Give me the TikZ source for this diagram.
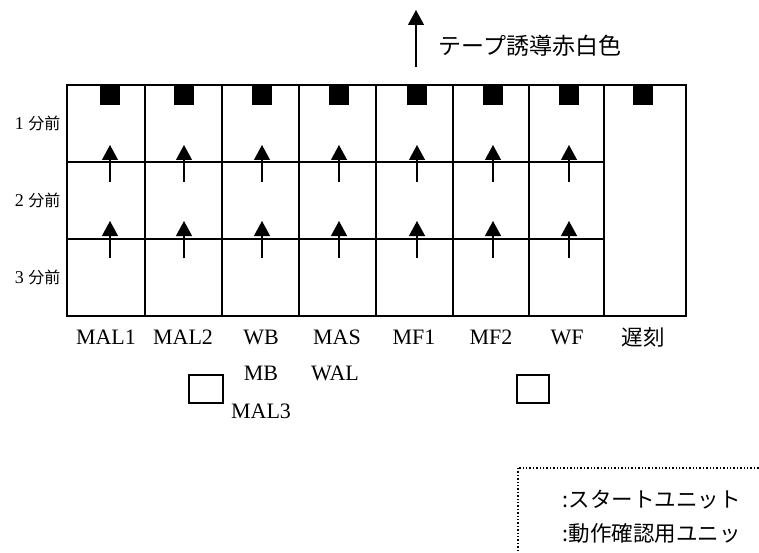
\documentclass[tikz,border=0pt]{standalone}
\usepackage{fontspec}
\setmainfont{Liberation Serif}
\newfontfamily\jpfont{Noto Sans CJK JP}
\usetikzlibrary{arrows.meta}
\begin{document}
\begin{tikzpicture}[x=1pt,y=-1pt,
	gline/.style={line width=1.6pt},
	blk/.style={fill=black},
	up/.style={line width=1.2pt,-{Triangle[length=15pt,width=16pt]}},
	lab/.style={font=\fontsize{22}{22}\selectfont},
	rowlab/.style={font=\fontsize{18}{18}\selectfont,anchor=east},
	jp/.style={font=\fontsize{21.5}{21.5}\selectfont\jpfont}]
		\useasboundingbox (0,0) rectangle (759,553);
		% grid
		\draw[gline] (67,85) rectangle (686,316);
		\draw[gline] (67,162) -- (604,162);
		\draw[gline] (67,239) -- (604,239);
		\draw[gline] (145,85) -- (145,316);
		\draw[gline] (222,85) -- (222,316);
		\draw[gline] (299,85) -- (299,316);
		\draw[gline] (376,85) -- (376,316);
		\draw[gline] (453,85) -- (453,316);
		\draw[gline] (529,85) -- (529,316);
		\draw[gline] (604,85) -- (604,316);
		% start units
		\fill[blk] (100,85) rectangle (120,105);
		\fill[blk] (174,85) rectangle (194,105);
		\fill[blk] (252,85) rectangle (272,105);
		\fill[blk] (329,85) rectangle (349,105);
		\fill[blk] (407,85) rectangle (427,105);
		\fill[blk] (483,85) rectangle (503,105);
		\fill[blk] (559,85) rectangle (579,105);
		\fill[blk] (633,85) rectangle (653,105);
		% arrows
		\coordinate (a1b) at (110,182); \coordinate (a1t) at (110,145);
		\coordinate (a2b) at (184,182); \coordinate (a2t) at (184,145);
		\coordinate (a3b) at (262,182); \coordinate (a3t) at (262,145);
		\coordinate (a4b) at (339,182); \coordinate (a4t) at (339,145);
		\coordinate (a5b) at (417,182); \coordinate (a5t) at (417,145);
		\coordinate (a6b) at (493,182); \coordinate (a6t) at (493,145);
		\coordinate (a7b) at (569,182); \coordinate (a7t) at (569,145);
		\coordinate (b1b) at (110,258); \coordinate (b1t) at (110,221);
		\coordinate (b2b) at (184,258); \coordinate (b2t) at (184,221);
		\coordinate (b3b) at (262,258); \coordinate (b3t) at (262,221);
		\coordinate (b4b) at (339,258); \coordinate (b4t) at (339,221);
		\coordinate (b5b) at (417,258); \coordinate (b5t) at (417,221);
		\coordinate (b6b) at (493,258); \coordinate (b6t) at (493,221);
		\coordinate (b7b) at (569,258); \coordinate (b7t) at (569,221);
		\draw[up] (a1b) -- (a1t); \draw[up] (b1b) -- (b1t);
		\draw[up] (a2b) -- (a2t); \draw[up] (b2b) -- (b2t);
		\draw[up] (a3b) -- (a3t); \draw[up] (b3b) -- (b3t);
		\draw[up] (a4b) -- (a4t); \draw[up] (b4b) -- (b4t);
		\draw[up] (a5b) -- (a5t); \draw[up] (b5b) -- (b5t);
		\draw[up] (a6b) -- (a6t); \draw[up] (b6b) -- (b6t);
		\draw[up] (a7b) -- (a7t); \draw[up] (b7b) -- (b7t);
		% tape guide
		\coordinate (tb) at (416,67);
		\coordinate (tt) at (416,10);
		\draw[up] (tb) -- (tt);
		\node[anchor=west,font=\fontsize{23}{23}\selectfont\jpfont] (tape) at (435,46) {テープ誘導赤白色};
		% rows
		\node[rowlab] (r1) at (64,123) {1 {\jpfont\fontsize{16}{16}\selectfont 分前}};
		\node[rowlab] (r2) at (64,200) {2 {\jpfont\fontsize{16}{16}\selectfont 分前}};
		\node[rowlab] (r3) at (64,277) {3 {\jpfont\fontsize{16}{16}\selectfont 分前}};
		% columns
		\node[lab] (mal1) at (106,337) {MAL1};
		\node[lab] (mal2) at (183,337) {MAL2};
		\node[lab] (wb) at (261,337) {WB};
		\node[lab] (mas) at (337,337) {MAS};
		\node[lab] (mf1) at (414,337) {MF1};
		\node[lab] (mf2) at (491,337) {MF2};
		\node[lab] (wf) at (567,337) {WF};
		\node[jp] (late) at (643,337) {遅刻};
		\node[lab] (mb) at (261,373) {MB};
		\node[lab] (wal) at (335,373) {WAL};
		\node[lab] (mal3) at (261,411) {MAL3};
		% check units
		\draw[line width=1.2pt] (189,375) rectangle (223,403);
		\draw[line width=1.2pt] (517,375) rectangle (549,403);
		% legend
		\draw[line width=1.4pt,dotted] (518,468) rectangle (790,590);
		\node[jp,anchor=west] (leg1) at (559,500) {:スタートユニット};
		\node[jp,anchor=west] (leg2) at (559,533) {:動作確認用ユニッ};
	\end{tikzpicture}
\end{document}
